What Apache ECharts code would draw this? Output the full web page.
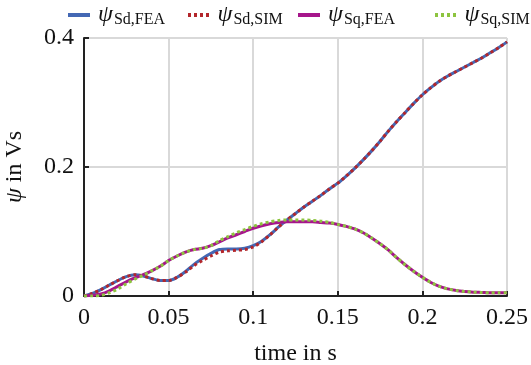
<!DOCTYPE html>
<html>
<head>
<meta charset="utf-8">
<script src="https://cdn.jsdelivr.net/npm/echarts@6/dist/echarts.min.js"></script>
<style>
html,body{margin:0;padding:0;background:#fff;}
#chart{width:531px;height:365px;}
</style>
</head>
<body>
<div id="chart"></div>
<script>
var time = [0,0.005,0.01,0.015,0.02,0.025,0.03,0.035,0.04,0.045,0.05,0.055,0.06,0.065,0.07,0.075,0.08,0.085,0.09,0.095,0.1,0.105,0.11,0.115,0.12,0.125,0.13,0.135,0.14,0.145,0.15,0.155,0.16,0.165,0.17,0.175,0.18,0.185,0.19,0.195,0.2,0.205,0.21,0.215,0.22,0.225,0.23,0.235,0.24,0.245,0.25];

var sdFEA = [0,0.004,0.010,0.017,0.024,0.030,0.033,0.031,0.027,0.024,0.024,0.029,0.038,0.049,0.058,0.066,0.072,0.073,0.073,0.074,0.078,0.085,0.095,0.107,0.118,0.128,0.138,0.147,0.156,0.166,0.175,0.186,0.198,0.211,0.225,0.240,0.256,0.271,0.285,0.299,0.312,0.323,0.333,0.341,0.348,0.355,0.362,0.369,0.377,0.385,0.394];

var sdSIM = [0,0.004,0.010,0.017,0.024,0.030,0.033,0.031,0.027,0.024,0.024,0.029,0.037,0.047,0.055,0.062,0.068,0.070,0.071,0.072,0.076,0.084,0.095,0.107,0.118,0.128,0.138,0.147,0.156,0.166,0.175,0.186,0.198,0.211,0.225,0.240,0.256,0.271,0.285,0.299,0.312,0.323,0.333,0.341,0.348,0.355,0.362,0.369,0.377,0.385,0.394];

var sqFEA = [0,0.001,0.003,0.008,0.015,0.022,0.028,0.033,0.039,0.046,0.055,0.062,0.068,0.072,0.074,0.078,0.084,0.090,0.095,0.100,0.105,0.109,0.112,0.114,0.115,0.115,0.115,0.115,0.114,0.113,0.111,0.108,0.104,0.098,0.090,0.081,0.071,0.059,0.048,0.038,0.029,0.021,0.015,0.011,0.0085,0.007,0.006,0.0055,0.005,0.005,0.005];

var sqSIM = [0,0.000,0.001,0.005,0.011,0.019,0.026,0.032,0.039,0.046,0.055,0.062,0.068,0.072,0.074,0.078,0.086,0.092,0.098,0.103,0.108,0.112,0.115,0.117,0.118,0.118,0.118,0.117,0.116,0.114,0.111,0.108,0.104,0.098,0.090,0.081,0.071,0.059,0.048,0.038,0.029,0.021,0.015,0.011,0.0085,0.007,0.006,0.0055,0.005,0.005,0.005];

var seriesNames = ['Sd,FEA','Sd,SIM','Sq,FEA','Sq,SIM'];
var xTicks = [0,0.05,0.1,0.15,0.2,0.25];
var yTicks = [0,0.2,0.4];

function pairs(ys){ return time.map(function(t,i){ return [t, ys[i]]; }); }

var FONT = 'Liberation Serif';
var chart = echarts.init(document.getElementById('chart'), null, {renderer:'canvas'});

var colors = ['#4468b4','#b3262b','#a6168b','#8dc43f'];
var legendLefts = [68, 188, 298, 435];

function mkLegend(i){
  return {
    data:[seriesNames[i]], left: legendLefts[i], top: 3, padding: 0,
    itemWidth: 22, itemHeight: 4, itemGap: 0,
    icon: 'rect',
    formatter: function(n){ return '{a|\u03C8}{b|' + n + '}'; },
    textStyle: {
      rich: {
        a: {fontFamily: FONT, fontStyle:'italic', fontSize: 24, color:'#111', padding:[0,1,0,3]},
        b: {fontFamily: FONT, fontSize: 16, color:'#111', padding:[10,0,0,0]}
      }
    }
  };
}

var legends = [0,1,2,3].map(mkLegend);
legends[0].itemStyle = {color: colors[0]};
legends[1].itemStyle = {color: colors[1]};
legends[2].itemStyle = {color: colors[2]};
legends[3].itemStyle = {color: colors[3]};
legends[1].icon = 'path://M0,0h3v4h-3z M6,0h3v4h-3z M12,0h3v4h-3z M18,0h3v4h-3z';
legends[3].icon = 'path://M0,0h3v4h-3z M6,0h3v4h-3z M12,0h3v4h-3z M18,0h3v4h-3z';

function mkSeries(i, data, dotted){
  return {
    name: seriesNames[i], type:'line', data: pairs(data),
    showSymbol:false, symbol:'none', smooth:0.3,
    lineStyle:{color: colors[i], width: 3, type: dotted ? [3,3] : 'solid', cap:'butt'},
    itemStyle:{color: colors[i]},
    z: 2 + i
  };
}

chart.setOption({
  animation:false,
  backgroundColor:'#fff',
  legend: legends,
  grid:{left:84, right:24, top:38, bottom:69, containLabel:false, outerBoundsMode:'none'},
  xAxis:{
    type:'value', min:0, max:0.25, interval:0.05,
    name:'time in s', nameLocation:'middle', nameGap:46,
    nameTextStyle:{fontFamily:FONT, fontSize:24, color:'#111'},
    axisLine:{show:true, onZero:false, lineStyle:{color:'#222', width:2}},
    axisTick:{show:true, inside:true, length:5, lineStyle:{color:'#222', width:2}},
    axisLabel:{fontFamily:FONT, fontSize:24, color:'#111', margin:10,
      formatter:function(v){ return String(+v.toFixed(3)); }},
    splitLine:{show:true, lineStyle:{color:'#d9d9d9', width:2}}
  },
  yAxis:{
    type:'value', min:0, max:0.4, interval:0.2,
    name:'{a|\u03C8} in Vs', nameLocation:'middle', nameGap:57,
    nameTextStyle:{fontFamily:FONT, fontSize:24, color:'#111',
      rich:{a:{fontFamily:FONT, fontStyle:'italic', fontSize:24, color:'#111'}}},
    axisLine:{show:true, onZero:false, lineStyle:{color:'#222', width:2}},
    axisTick:{show:true, inside:true, length:5, lineStyle:{color:'#222', width:2}},
    axisLabel:{fontFamily:FONT, fontSize:24, color:'#111', margin:10,
      formatter:function(v){ return String(+v.toFixed(3)); }},
    splitLine:{show:true, lineStyle:{color:'#d9d9d9', width:2}}
  },
  series:[
    mkSeries(0, sdFEA, false),
    mkSeries(1, sdSIM, true),
    mkSeries(2, sqFEA, false),
    mkSeries(3, sqSIM, true)
  ]
});
</script>
</body>
</html>
